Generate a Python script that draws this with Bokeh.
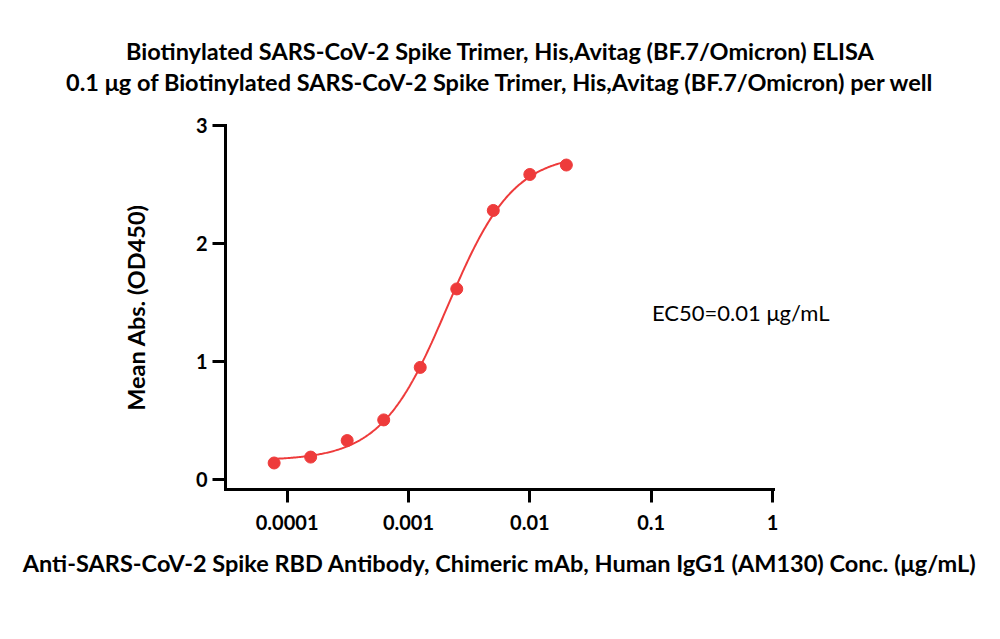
import numpy as np
from bokeh.plotting import figure
from bokeh.models import (Label, FixedTicker, CustomJSTickFormatter, ColumnDataSource)
from bokeh.embed import file_html
from bokeh.resources import INLINE

# ---- data ----
title_line1 = "Biotinylated SARS-CoV-2 Spike Trimer, His,Avitag (BF.7/Omicron) ELISA"
title_line2 = "0.1 \u03bcg of Biotinylated SARS-CoV-2 Spike Trimer, His,Avitag (BF.7/Omicron) per well"
x_label = "Anti-SARS-CoV-2 Spike RBD Antibody, Chimeric mAb, Human IgG1 (AM130) Conc. (\u03bcg/mL)"
y_label = "Mean Abs. (OD450)"
ec50_text = "EC50=0.01 \u03bcg/mL"

conc = [0.000078125, 0.00015625, 0.0003125, 0.000625, 0.00125, 0.0025, 0.005, 0.01, 0.02]
od450 = [0.14, 0.19, 0.33, 0.505, 0.95, 1.615, 2.28, 2.585, 2.665]

x_ticks = [0.0001, 0.001, 0.01, 0.1, 1]
x_tick_labels = ["0.0001", "0.001", "0.01", "0.1", "1"]
y_ticks = [0, 1, 2, 3]

RED = "#EE3B3B"
FONT = "Lato"

# ---- 4PL fit of the points (grid search, linear in bottom/top) ----
lx = np.log10(np.array(conc))
y = np.array(od450)
lec = np.arange(-3.6, -1.4, 0.002)[:, None, None]
hill = np.arange(0.5, 3.0, 0.005)[None, :, None]
s = 1.0 / (1.0 + 10 ** ((lec - lx[None, None, :]) * hill))
sm = s.mean(axis=2, keepdims=True)
ym = y.mean()
slope = ((s - sm) * (y - ym)).sum(axis=2, keepdims=True) / ((s - sm) ** 2).sum(axis=2, keepdims=True)
icpt = ym - slope * sm
sse = ((icpt + slope * s - y) ** 2).sum(axis=2)
i, j = np.unravel_index(np.argmin(sse), sse.shape)
b_lec = lec[i, 0, 0]
b_h = hill[0, j, 0]
b_bottom = icpt[i, j, 0]
b_span = slope[i, j, 0]
fit_lx = np.linspace(lx[0], lx[-1], 300)
fit_x = 10 ** fit_lx
fit_y = b_bottom + b_span / (1.0 + 10 ** ((b_lec - fit_lx) * b_h))

# ---- figure ----
X_MIN, X_MAX = 10 ** -4.508, 10 ** 0.0082
p = figure(width=984, height=623, x_axis_type="log",
           x_range=(X_MIN, X_MAX), y_range=(-0.0847, 3.0),
           output_backend="svg", toolbar_location=None,
           min_border_left=225, min_border_right=211,
           min_border_top=125, min_border_bottom=134,
           title=None)
p.outline_line_color = None
p.grid.visible = False
p.background_fill_color = "white"
p.border_fill_color = "white"

for ax in (p.xaxis[0], p.yaxis[0]):
    ax.axis_line_width = 3
    ax.axis_line_color = "black"
    ax.axis_line_cap = "square"
    ax.major_tick_line_width = 3
    ax.major_tick_line_color = "black"
    ax.major_tick_in = 0
    ax.major_tick_out = 13
    ax.minor_tick_line_color = None
    ax.major_label_text_font = FONT
    ax.major_label_text_font_size = "20px"
    ax.major_label_text_font_style = "bold"
    ax.major_label_text_color = "black"
    ax.axis_label_text_font = FONT
    ax.axis_label_text_font_size = "23.5px"
    ax.axis_label_text_font_style = "bold"
    ax.axis_label_text_color = "black"

p.xaxis[0].ticker = FixedTicker(ticks=x_ticks)
p.xaxis[0].formatter = CustomJSTickFormatter(
    args=dict(vals=x_ticks, labs=x_tick_labels),
    code="""
    for (let k = 0; k < vals.length; k++) {
        if (Math.abs(Math.log10(vals[k]) - Math.log10(tick)) < 1e-6) return labs[k];
    }
    return "";
    """)
p.xaxis[0].major_label_standoff = 12
p.xaxis[0].axis_label = x_label
p.xaxis[0].axis_label_standoff = 16

p.yaxis[0].ticker = FixedTicker(ticks=y_ticks)
p.yaxis[0].major_label_standoff = 5
p.yaxis[0].axis_label = y_label
p.yaxis[0].axis_label_standoff = 43

src_fit = ColumnDataSource(dict(x=fit_x, y=fit_y))
src_pts = ColumnDataSource(dict(x=conc, y=od450))
p.line("x", "y", source=src_fit, line_color=RED, line_width=2)
p.scatter("x", "y", source=src_pts, size=12, fill_color=RED, line_color=RED,
          line_width=1)

# titles: placed in the panel above the frame (not clipped)
TITLE_X = 10 ** -2.243
p.add_layout(Label(x=TITLE_X, y=3.370, text=title_line2, text_font=FONT,
                   text_font_size="23.5px", text_font_style="bold",
                   text_color="black", text_align="center",
                   text_baseline="alphabetic"), "above")
p.add_layout(Label(x=TITLE_X, y=3.633, text=title_line1, text_font=FONT,
                   text_font_size="23.5px", text_font_style="bold",
                   text_color="black", text_align="center",
                   text_baseline="alphabetic"), "above")

# EC50 annotation (in the right panel so it is not clipped by the frame)
p.add_layout(Label(x=0.1016, y=1.4166, text=ec50_text, text_font=FONT,
                   text_font_size="22px", text_color="black",
                   text_baseline="alphabetic", text_align="left"), "right")

open("out.html", "w").write(file_html(p, INLINE))
